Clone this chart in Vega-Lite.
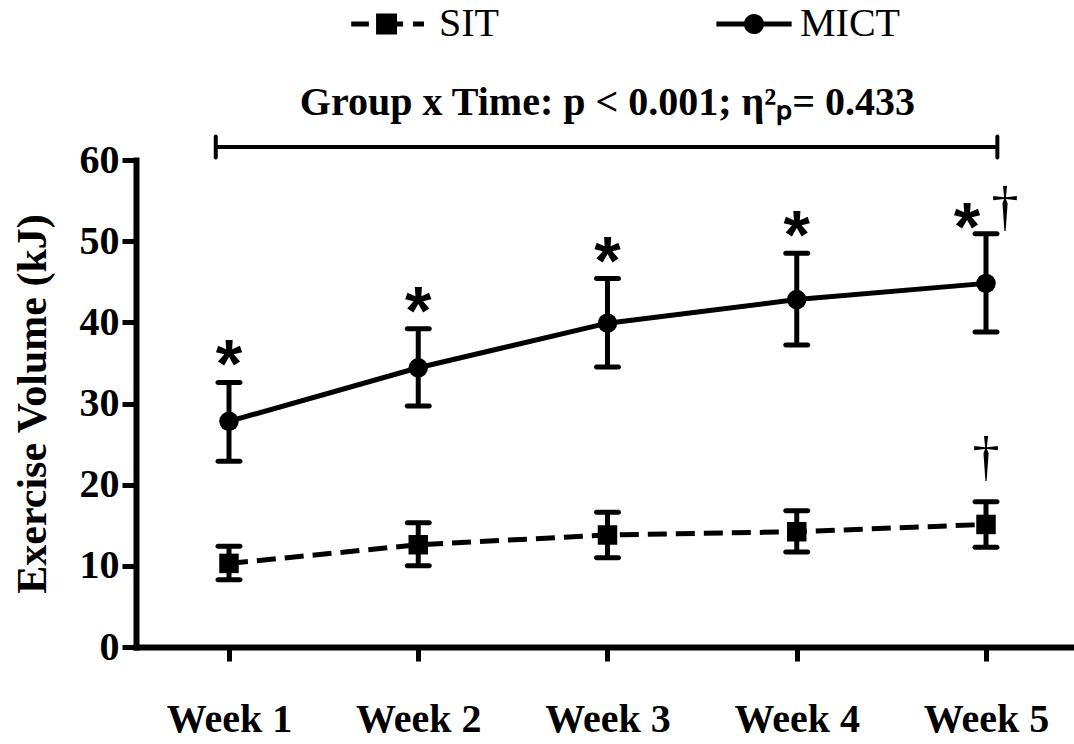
{
  "$schema": "https://vega.github.io/schema/vega-lite/v6.json",
  "width": 938,
  "height": 487,
  "autosize": "none",
  "padding": {"left": 136, "top": 160, "right": 0, "bottom": 97},
  "background": "white",
  "config": {"view": {"stroke": null}, "font": "Liberation Serif"},
  "datasets": {
    "means": [
      {"week": 1, "group": "SIT", "mean": 10.3, "lo": 8.3, "hi": 12.4},
      {"week": 2, "group": "SIT", "mean": 12.6, "lo": 10.0, "hi": 15.3},
      {"week": 3, "group": "SIT", "mean": 13.8, "lo": 11.0, "hi": 16.6},
      {"week": 4, "group": "SIT", "mean": 14.2, "lo": 11.7, "hi": 16.8},
      {"week": 5, "group": "SIT", "mean": 15.1, "lo": 12.3, "hi": 17.9},
      {"week": 1, "group": "MICT", "mean": 27.8, "lo": 22.9, "hi": 32.6},
      {"week": 2, "group": "MICT", "mean": 34.4, "lo": 29.7, "hi": 39.2},
      {"week": 3, "group": "MICT", "mean": 39.9, "lo": 34.5, "hi": 45.4},
      {"week": 4, "group": "MICT", "mean": 42.8, "lo": 37.2, "hi": 48.5},
      {"week": 5, "group": "MICT", "mean": 44.8, "lo": 38.8, "hi": 50.9}
    ],
    "stars": [
      {"week": 1, "y": 32.6},
      {"week": 2, "y": 39.2},
      {"week": 3, "y": 45.4},
      {"week": 4, "y": 48.5}
    ],
    "star5": [{"week": 5, "y": 50.9}],
    "daggerMICT": [{"week": 5, "y": 50.9}],
    "daggerSIT": [{"week": 5, "y": 17.9}],
    "bracket": [{"x1": 0.93, "x2": 5.06, "y": 61.6}],
    "bracketEnds": [
      {"x": 0.93, "y1": 60.3, "y2": 62.9},
      {"x": 5.06, "y1": 60.3, "y2": 62.9}
    ],
    "heading": [{"x": 3, "y": 67, "label": "Group x Time: p < 0.001; η²ₚ= 0.433"}]
  },
  "layer": [
    {
      "data": {"name": "means"},
      "transform": [{"filter": "datum.group == 'SIT'"}],
      "mark": {"type": "line", "strokeWidth": 5, "color": "black", "strokeDash": [19, 9]},
      "encoding": {
        "x": {
          "field": "week", "type": "quantitative",
          "scale": {"domain": [0.5086, 5.465], "nice": false, "zero": false},
          "axis": {
            "values": [1, 2, 3, 4, 5],
            "labelExpr": "'Week ' + datum.value",
            "title": null, "grid": false,
            "domainColor": "black", "domainWidth": 6, "domainCap": "square",
            "tickColor": "black", "tickWidth": 5, "tickSize": 14,
            "labelFont": "Liberation Serif", "labelFontWeight": "bold", "labelFontSize": 40,
            "labelColor": "black", "labelPadding": 38, "labelFlush": false, "labelOverlap": false
          }
        },
        "y": {
          "field": "mean", "type": "quantitative",
          "scale": {"domain": [0, 60], "nice": false},
          "axis": {
            "values": [0, 10, 20, 30, 40, 50, 60],
            "title": "Exercise Volume (kJ)",
            "titleFont": "Liberation Serif", "titleFontWeight": "bold", "titleFontSize": 42,
            "titleColor": "black", "titlePadding": 25,
            "grid": false,
            "domainColor": "black", "domainWidth": 6, "domainCap": "square",
            "tickColor": "black", "tickWidth": 5, "tickSize": 14,
            "labelFont": "Liberation Serif", "labelFontWeight": "bold", "labelFontSize": 40,
            "labelColor": "black", "labelPadding": 3, "labelFlush": false, "labelOverlap": false
          }
        }
      }
    },
    {
      "data": {"name": "means"},
      "transform": [{"filter": "datum.group == 'MICT'"}],
      "mark": {"type": "line", "strokeWidth": 5, "color": "black"},
      "encoding": {
        "x": {"field": "week", "type": "quantitative"},
        "y": {"field": "mean", "type": "quantitative"}
      }
    },
    {
      "data": {"name": "means"},
      "mark": {"type": "rule", "strokeWidth": 5, "color": "black"},
      "encoding": {
        "x": {"field": "week", "type": "quantitative"},
        "y": {"field": "lo", "type": "quantitative"},
        "y2": {"field": "hi"}
      }
    },
    {
      "data": {"name": "means"},
      "mark": {"type": "tick", "orient": "horizontal", "size": 27, "thickness": 5, "color": "black", "opacity": 1, "cornerRadius": 2.5},
      "encoding": {
        "x": {"field": "week", "type": "quantitative"},
        "y": {"field": "hi", "type": "quantitative"}
      }
    },
    {
      "data": {"name": "means"},
      "mark": {"type": "tick", "orient": "horizontal", "size": 27, "thickness": 5, "color": "black", "opacity": 1, "cornerRadius": 2.5},
      "encoding": {
        "x": {"field": "week", "type": "quantitative"},
        "y": {"field": "lo", "type": "quantitative"}
      }
    },
    {
      "data": {"name": "means"},
      "transform": [{"filter": "datum.group == 'SIT'"}],
      "mark": {"type": "point", "filled": true, "opacity": 1, "color": "black", "size": 380, "shape": "square"},
      "encoding": {
        "x": {"field": "week", "type": "quantitative"},
        "y": {"field": "mean", "type": "quantitative"}
      }
    },
    {
      "data": {"name": "means"},
      "transform": [{"filter": "datum.group == 'MICT'"}],
      "mark": {"type": "point", "filled": true, "opacity": 1, "color": "black", "size": 380, "shape": "circle"},
      "encoding": {
        "x": {"field": "week", "type": "quantitative"},
        "y": {"field": "mean", "type": "quantitative"}
      }
    },
    {
      "data": {"name": "means"},
      "mark": {"type": "point", "filled": true, "color": "black", "size": 0},
      "encoding": {
        "x": {"field": "week", "type": "quantitative"},
        "y": {"field": "mean", "type": "quantitative"},
        "shape": {
          "field": "group", "type": "nominal",
          "scale": {
            "domain": ["SIT", "MICT"],
            "range": [
              "M-1.1,-0.066H-0.635V0.066H-1.1ZM-0.446,-0.276H0.106V0.276H-0.446ZM0.106,-0.066H0.265V0.066H0.106ZM0.525,-0.066H0.815V0.066H0.525Z",
              "M-0.99,-0.066H0.99V0.066H-0.99ZM-0.265,0A0.265,0.265 0 1,1 0.265,0A0.265,0.265 0 1,1 -0.265,0Z"
            ]
          },
          "legend": {
            "orient": "none", "legendX": 219, "legendY": -174,
            "direction": "horizontal", "title": null,
            "labelFont": "Liberation Serif", "labelFontSize": 40, "labelFontWeight": "normal",
            "labelColor": "black", "labelOffset": 8, "columnPadding": 217,
            "symbolSize": 5776, "symbolStrokeWidth": 0,
            "symbolFillColor": "black", "symbolOpacity": 1,
            "encode": {
              "symbols": {
                "fill": {"value": "black"},
                "size": {"value": 5776},
                "opacity": {"value": 1}
              }
            }
          }
        }
      }
    },
    {
      "data": {"name": "stars"},
      "mark": {"type": "text", "text": "*", "font": "Liberation Sans", "fontWeight": "bold", "fontSize": 68, "baseline": "alphabetic", "align": "center", "dy": 5, "color": "black"},
      "encoding": {
        "x": {"field": "week", "type": "quantitative"},
        "y": {"field": "y", "type": "quantitative"}
      }
    },
    {
      "data": {"name": "star5"},
      "mark": {"type": "text", "text": "*", "font": "Liberation Sans", "fontWeight": "bold", "fontSize": 68, "baseline": "alphabetic", "align": "center", "dx": -19, "dy": 16, "color": "black"},
      "encoding": {
        "x": {"field": "week", "type": "quantitative"},
        "y": {"field": "y", "type": "quantitative"}
      }
    },
    {
      "data": {"name": "daggerMICT"},
      "mark": {"type": "text", "text": "†", "font": "Liberation Serif", "fontSize": 54, "baseline": "middle", "align": "center", "dx": 19, "dy": -25, "color": "black"},
      "encoding": {
        "x": {"field": "week", "type": "quantitative"},
        "y": {"field": "y", "type": "quantitative"}
      }
    },
    {
      "data": {"name": "daggerSIT"},
      "mark": {"type": "text", "text": "†", "font": "Liberation Serif", "fontSize": 54, "baseline": "middle", "align": "center", "dx": 0, "dy": -43, "color": "black"},
      "encoding": {
        "x": {"field": "week", "type": "quantitative"},
        "y": {"field": "y", "type": "quantitative"}
      }
    },
    {
      "data": {"name": "bracket"},
      "mark": {"type": "rule", "strokeWidth": 4, "color": "black"},
      "encoding": {
        "x": {"field": "x1", "type": "quantitative"},
        "x2": {"field": "x2"},
        "y": {"field": "y", "type": "quantitative"}
      }
    },
    {
      "data": {"name": "bracketEnds"},
      "mark": {"type": "rule", "strokeWidth": 4, "color": "black", "strokeCap": "round"},
      "encoding": {
        "x": {"field": "x", "type": "quantitative"},
        "y": {"field": "y1", "type": "quantitative"},
        "y2": {"field": "y2"}
      }
    },
    {
      "data": {"name": "heading"},
      "mark": {"type": "text", "font": "Liberation Serif", "fontWeight": "bold", "fontSize": 40, "baseline": "middle", "align": "center", "color": "black"},
      "encoding": {
        "x": {"field": "x", "type": "quantitative"},
        "y": {"field": "y", "type": "quantitative"},
        "text": {"field": "label"}
      }
    }
  ]
}
